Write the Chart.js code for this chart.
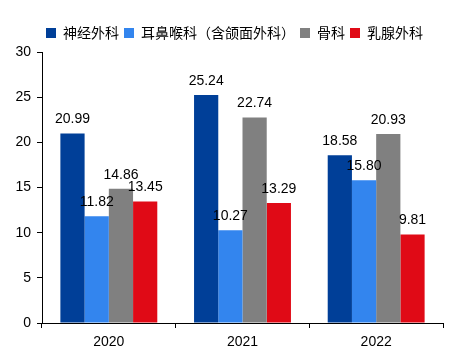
<!DOCTYPE html>
<html><head><meta charset="utf-8">
<script src="https://cdn.jsdelivr.net/npm/chart.js@4.4.0/dist/chart.umd.min.js"></script>
<style>html,body{margin:0;padding:0;background:#fff}#wrap{width:461px;height:350px}</style>
</head><body><div id="wrap"><canvas id="c" width="461" height="350"></canvas></div>
<script>
const categories = ['2020', '2021', '2022'];
const seriesNames = ['神经外科', '耳鼻喉科（含颌面外科）', '骨科', '乳腺外科'];
const neuro = [20.99, 25.24, 18.58];
const ent = [11.82, 10.27, 15.80];
const ortho = [14.86, 22.74, 20.93];
const breast = [13.45, 13.29, 9.81];
const yTicks = [0, 5, 10, 15, 20, 25, 30];
const colors = ['#003F98', '#3385EE', '#808080', '#E00A16'];

const labelPlugin = {
  id: 'labels',
  afterLayout(chart) {
    const lg = chart.legend;
    lg.left += 13; lg.right += 13;
    lg.top -= 2; lg.bottom -= 2;
  },
  afterDatasetsDraw(chart) {
    const ctx = chart.ctx;
    ctx.save();
    ctx.font = '14px "Liberation Sans", Arial, sans-serif';
    ctx.fillStyle = '#000';
    ctx.textAlign = 'center';
    ctx.textBaseline = 'bottom';
    chart.data.datasets.forEach((ds, i) => {
      const meta = chart.getDatasetMeta(i);
      meta.data.forEach((el, j) => {
        ctx.fillText(ds.data[j].toFixed(2), el.x, el.y - 7);
      });
    });
    ctx.restore();
  }
};

const allData = [neuro, ent, ortho, breast];
new Chart(document.getElementById('c'), {
  type: 'bar',
  data: {
    labels: categories,
    datasets: seriesNames.map((n, i) => ({
      label: n,
      data: allData[i],
      backgroundColor: colors[i],
      categoryPercentage: 0.725,
      barPercentage: 1.0
    }))
  },
  options: {
    responsive: false,
    animation: false,
    devicePixelRatio: 1,
    layout: { padding: { left: 0, right: 18, top: 23, bottom: 0 } },
    plugins: {
      legend: {
        position: 'top',
        align: 'center',
        labels: {
          boxWidth: 10, boxHeight: 10, padding: 5,
          color: '#000',
          font: { size: 14, family: '"Noto Sans CJK SC", sans-serif' }
        }
      },
      tooltip: { enabled: false }
    },
    scales: {
      x: {
        afterFit(scale) { scale.height = 27; },
        grid: { display: true, drawOnChartArea: false, drawTicks: true, tickLength: 5, color: '#000', offset: true },
        border: { display: true, color: '#000' },
        ticks: { color: '#000', font: { size: 14, family: '"Liberation Sans", Arial, sans-serif' }, padding: 6 }
      },
      y: {
        min: 0, max: 30,
        afterFit(scale) { scale.width = 42; },
        afterBuildTicks(scale) { scale.ticks = yTicks.map(v => ({ value: v })); },
        grid: { display: true, drawOnChartArea: false, drawTicks: true, tickLength: 5, color: '#000' },
        border: { display: true, color: '#000' },
        ticks: { color: '#000', font: { size: 14, family: '"Liberation Sans", Arial, sans-serif' }, padding: 6 }
      }
    }
  },
  plugins: [labelPlugin]
});
</script></body></html>
